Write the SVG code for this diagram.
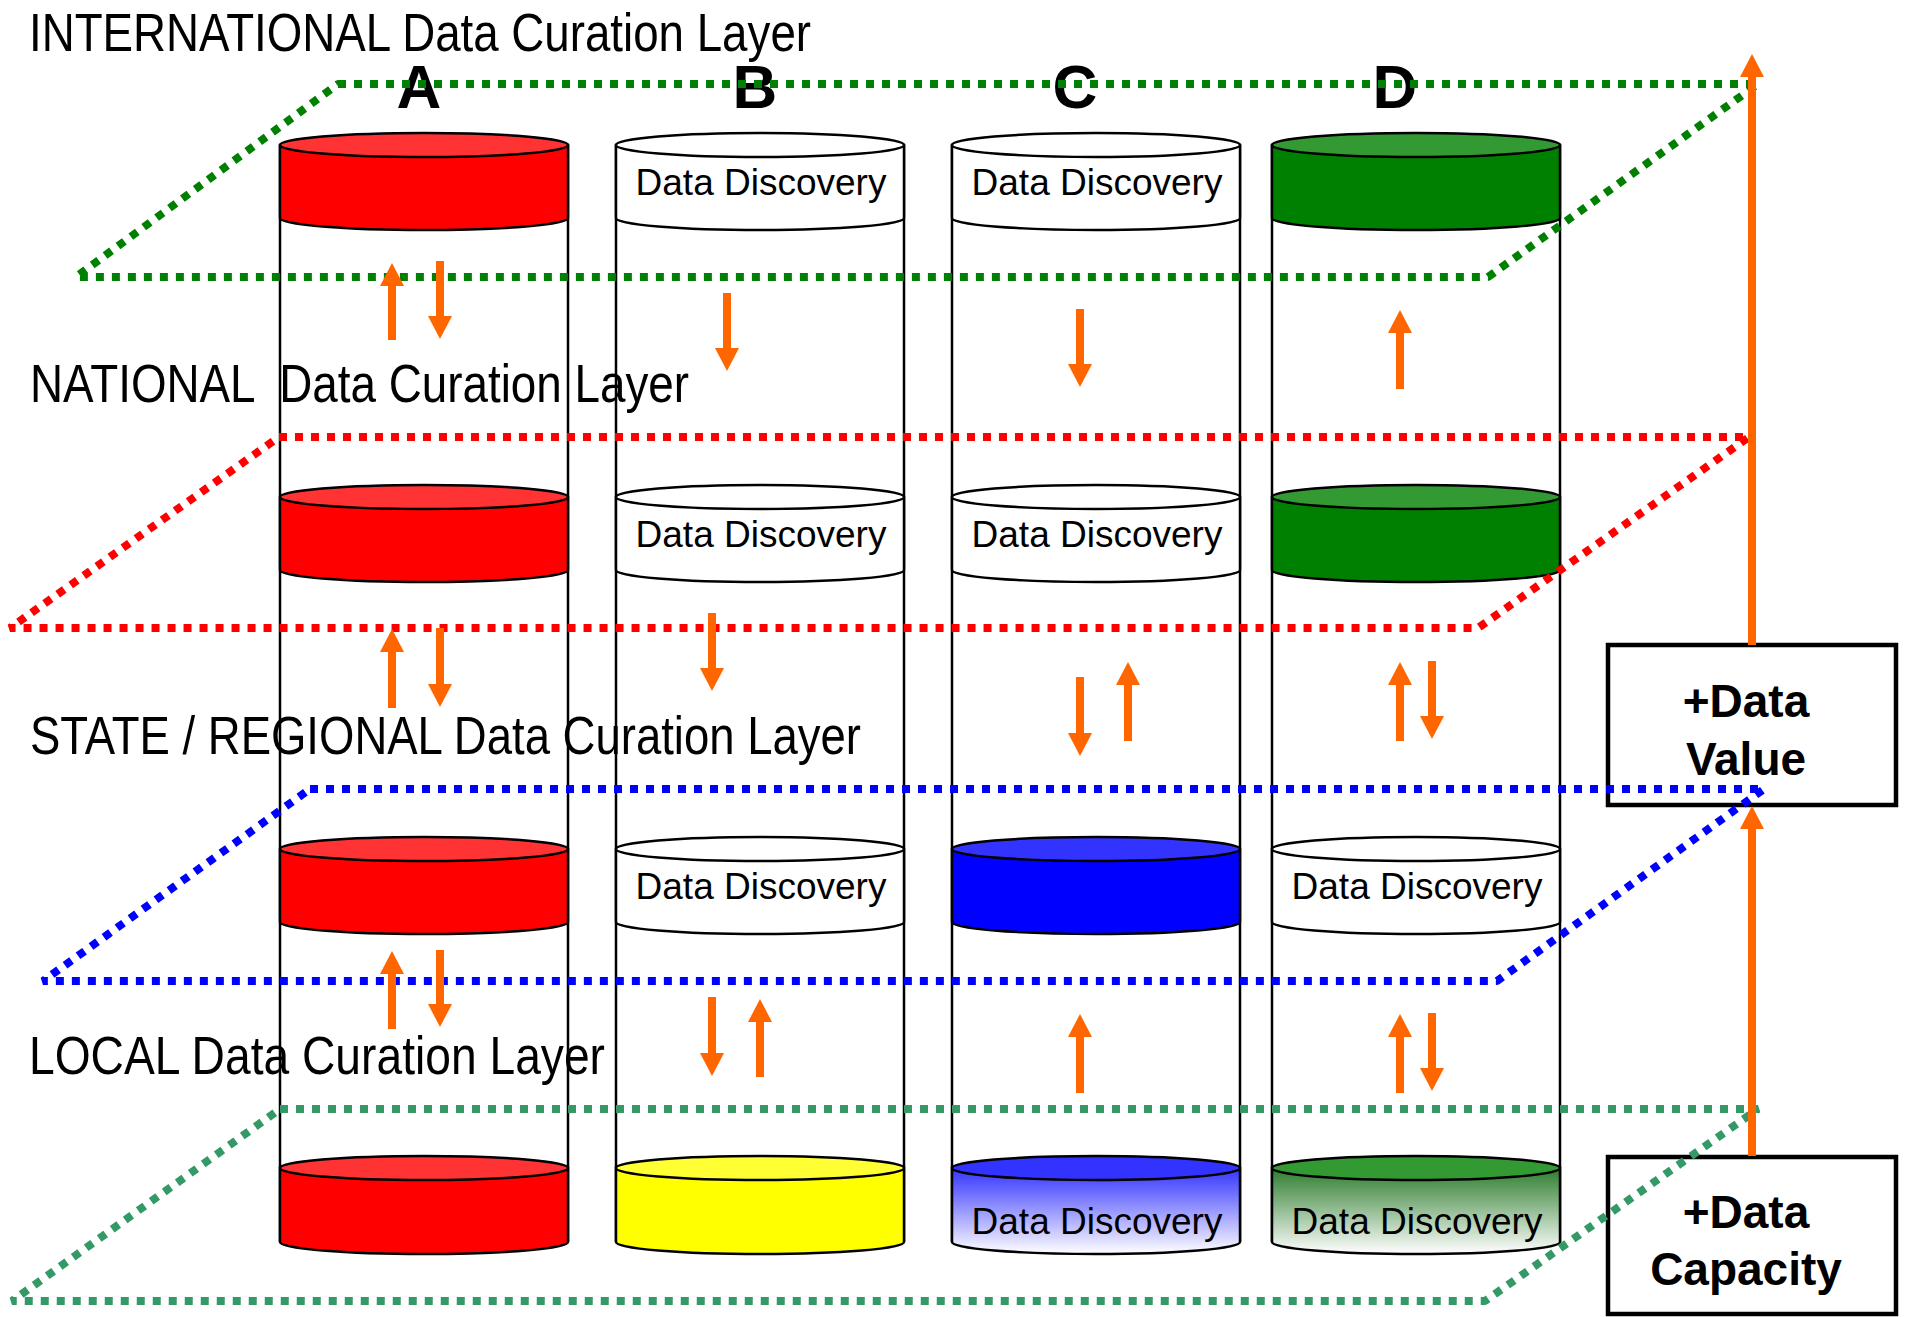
<svg xmlns="http://www.w3.org/2000/svg" width="1908" height="1317" viewBox="0 0 1908 1317">
<defs>
<style>
.wall{stroke:#000;stroke-width:2.5;fill:none}
.seg{stroke:#000;stroke-width:2.5}
.lbl{font-family:"Liberation Sans",Arial,sans-serif;font-size:53px;fill:#000}
.dd{font-family:"Liberation Sans",Arial,sans-serif;font-size:37px;fill:#000;text-anchor:middle}
.let{font-family:"Liberation Sans",Arial,sans-serif;font-size:62px;font-weight:bold;fill:#000;text-anchor:middle}
.box{fill:#fff;stroke:#000;stroke-width:4.5}
.bt{font-family:"Liberation Sans",Arial,sans-serif;font-size:46px;font-weight:bold;fill:#000;text-anchor:middle}
.plane{fill:none;stroke-width:8;stroke-dasharray:8 8;stroke-linejoin:bevel}
.arr{stroke:#FF6600;stroke-width:8;fill:none;marker-end:url(#ah)}
</style>
<marker id="ah" markerUnits="userSpaceOnUse" markerWidth="24" markerHeight="24" refX="1" refY="12" orient="auto" viewBox="0 0 24 24">
<path d="M0,0 L23,12 L0,24 Z" fill="#FF6600"/>
</marker>
<linearGradient id="gBlue" x1="0" y1="0" x2="0" y2="1">
<stop offset="0" stop-color="#3333FF"/>
<stop offset="1" stop-color="#FFFFFF"/>
</linearGradient>
<linearGradient id="gGreen" x1="0" y1="0" x2="0" y2="1">
<stop offset="0" stop-color="#2E7D2E"/>
<stop offset="1" stop-color="#FFFFFF"/>
</linearGradient>
</defs>
<rect x="0" y="0" width="1908" height="1317" fill="#fff"/>

<!-- Layer labels -->
<g id="labels">
<text class="lbl" x="29" y="51" textLength="782" lengthAdjust="spacingAndGlyphs">INTERNATIONAL Data Curation Layer</text>
<text class="lbl" x="30" y="402" textLength="659" lengthAdjust="spacingAndGlyphs" xml:space="preserve" style="white-space:pre">NATIONAL  Data Curation Layer</text>
<text class="lbl" x="30" y="754" textLength="831" lengthAdjust="spacingAndGlyphs">STATE / REGIONAL Data Curation Layer</text>
<text class="lbl" x="29" y="1074" textLength="576" lengthAdjust="spacingAndGlyphs">LOCAL Data Curation Layer</text>
</g>

<!-- Column letters -->
<g id="letters">
<text class="let" x="419" y="108">A</text>
<text class="let" x="755" y="108">B</text>
<text class="let" x="1075" y="108">C</text>
<text class="let" x="1395" y="108">D</text>
</g>

<!-- Column A -->
<g id="col-A">
<line class="wall" x1="280" y1="145" x2="280" y2="1242"/>
<line class="wall" x1="568" y1="145" x2="568" y2="1242"/>
<path class="seg" fill="#FF0000" d="M280,145 L280,218 A144,12 0 0 0 568,218 L568,145 Z"/>
<ellipse class="seg" fill="#FF3333" cx="424" cy="145" rx="144" ry="12"/>
<path class="seg" fill="#FF0000" d="M280,497 L280,570 A144,12 0 0 0 568,570 L568,497 Z"/>
<ellipse class="seg" fill="#FF3333" cx="424" cy="497" rx="144" ry="12"/>
<path class="seg" fill="#FF0000" d="M280,849 L280,922 A144,12 0 0 0 568,922 L568,849 Z"/>
<ellipse class="seg" fill="#FF3333" cx="424" cy="849" rx="144" ry="12"/>
<path class="seg" fill="#FF0000" d="M280,1168 L280,1242 A144,12 0 0 0 568,1242 L568,1168 Z"/>
<ellipse class="seg" fill="#FF3333" cx="424" cy="1168" rx="144" ry="12"/>
</g>

<!-- Column B -->
<g id="col-B">
<line class="wall" x1="616" y1="145" x2="616" y2="1242"/>
<line class="wall" x1="904" y1="145" x2="904" y2="1242"/>
<path class="seg" fill="#FFFFFF" d="M616,145 L616,218 A144,12 0 0 0 904,218 L904,145 Z"/>
<ellipse class="seg" fill="#FFFFFF" cx="760" cy="145" rx="144" ry="12"/>
<text class="dd" x="761" y="195">Data Discovery</text>
<path class="seg" fill="#FFFFFF" d="M616,497 L616,570 A144,12 0 0 0 904,570 L904,497 Z"/>
<ellipse class="seg" fill="#FFFFFF" cx="760" cy="497" rx="144" ry="12"/>
<text class="dd" x="761" y="547">Data Discovery</text>
<path class="seg" fill="#FFFFFF" d="M616,849 L616,922 A144,12 0 0 0 904,922 L904,849 Z"/>
<ellipse class="seg" fill="#FFFFFF" cx="760" cy="849" rx="144" ry="12"/>
<text class="dd" x="761" y="899">Data Discovery</text>
<path class="seg" fill="#FFFF00" d="M616,1168 L616,1242 A144,12 0 0 0 904,1242 L904,1168 Z"/>
<ellipse class="seg" fill="#FFFF33" cx="760" cy="1168" rx="144" ry="12"/>
</g>

<!-- Column C -->
<g id="col-C">
<line class="wall" x1="952" y1="145" x2="952" y2="1242"/>
<line class="wall" x1="1240" y1="145" x2="1240" y2="1242"/>
<path class="seg" fill="#FFFFFF" d="M952,145 L952,218 A144,12 0 0 0 1240,218 L1240,145 Z"/>
<ellipse class="seg" fill="#FFFFFF" cx="1096" cy="145" rx="144" ry="12"/>
<text class="dd" x="1097" y="195">Data Discovery</text>
<path class="seg" fill="#FFFFFF" d="M952,497 L952,570 A144,12 0 0 0 1240,570 L1240,497 Z"/>
<ellipse class="seg" fill="#FFFFFF" cx="1096" cy="497" rx="144" ry="12"/>
<text class="dd" x="1097" y="547">Data Discovery</text>
<path class="seg" fill="#0000FF" d="M952,849 L952,922 A144,12 0 0 0 1240,922 L1240,849 Z"/>
<ellipse class="seg" fill="#3333FF" cx="1096" cy="849" rx="144" ry="12"/>
<path class="seg" fill="url(#gBlue)" d="M952,1168 L952,1242 A144,12 0 0 0 1240,1242 L1240,1168 Z"/>
<ellipse class="seg" fill="#3333FF" cx="1096" cy="1168" rx="144" ry="12"/>
<text class="dd" x="1097" y="1234">Data Discovery</text>
</g>

<!-- Column D -->
<g id="col-D">
<line class="wall" x1="1272" y1="145" x2="1272" y2="1242"/>
<line class="wall" x1="1560" y1="145" x2="1560" y2="1242"/>
<path class="seg" fill="#008000" d="M1272,145 L1272,218 A144,12 0 0 0 1560,218 L1560,145 Z"/>
<ellipse class="seg" fill="#339933" cx="1416" cy="145" rx="144" ry="12"/>
<path class="seg" fill="#008000" d="M1272,497 L1272,570 A144,12 0 0 0 1560,570 L1560,497 Z"/>
<ellipse class="seg" fill="#339933" cx="1416" cy="497" rx="144" ry="12"/>
<path class="seg" fill="#FFFFFF" d="M1272,849 L1272,922 A144,12 0 0 0 1560,922 L1560,849 Z"/>
<ellipse class="seg" fill="#FFFFFF" cx="1416" cy="849" rx="144" ry="12"/>
<text class="dd" x="1417" y="899">Data Discovery</text>
<path class="seg" fill="url(#gGreen)" d="M1272,1168 L1272,1242 A144,12 0 0 0 1560,1242 L1560,1168 Z"/>
<ellipse class="seg" fill="#339933" cx="1416" cy="1168" rx="144" ry="12"/>
<text class="dd" x="1417" y="1234">Data Discovery</text>
</g>

<!-- Value boxes -->
<g id="box-value">
<rect class="box" x="1608" y="645" width="288" height="160"/>
<text class="bt" x="1746" y="717">+Data</text>
<text class="bt" x="1746" y="775">Value</text>
</g>
<g id="box-capacity">
<rect class="box" x="1608" y="1157" width="288" height="157"/>
<text class="bt" x="1746" y="1228">+Data</text>
<text class="bt" x="1746" y="1285">Capacity</text>
</g>

<!-- Curation layer planes -->
<g id="planes">
<path class="plane" stroke="#008000" d="M338,84 L1758,84 L1488,277 L76,277 Z"/>
<path class="plane" stroke="#FF0000" d="M279,437 L1749,437 L1478,628 L10,628 Z"/>
<path class="plane" stroke="#0000FF" d="M310,789 L1764,789 L1497,981 L43,981 Z"/>
<path class="plane" stroke="#339966" d="M280,1109 L1758,1109 L1485,1301 L12,1301 Z"/>
</g>

<!-- Connectors -->
<g id="connectors">
<line class="arr" x1="392" y1="340" x2="392" y2="285"/>
<line class="arr" x1="440" y1="261" x2="440" y2="317"/>
<line class="arr" x1="727" y1="293" x2="727" y2="349"/>
<line class="arr" x1="1080" y1="309" x2="1080" y2="365"/>
<line class="arr" x1="1400" y1="389" x2="1400" y2="332"/>

<line class="arr" x1="392" y1="708" x2="392" y2="651"/>
<line class="arr" x1="440" y1="628" x2="440" y2="685"/>
<line class="arr" x1="712" y1="613" x2="712" y2="669"/>
<line class="arr" x1="1080" y1="677" x2="1080" y2="734"/>
<line class="arr" x1="1128" y1="741" x2="1128" y2="684"/>
<line class="arr" x1="1400" y1="741" x2="1400" y2="684"/>
<line class="arr" x1="1432" y1="661" x2="1432" y2="717"/>

<line class="arr" x1="392" y1="1029" x2="392" y2="973"/>
<line class="arr" x1="440" y1="950" x2="440" y2="1005"/>
<line class="arr" x1="712" y1="997" x2="712" y2="1054"/>
<line class="arr" x1="760" y1="1077" x2="760" y2="1021"/>
<line class="arr" x1="1080" y1="1093" x2="1080" y2="1036"/>
<line class="arr" x1="1400" y1="1093" x2="1400" y2="1036"/>
<line class="arr" x1="1432" y1="1013" x2="1432" y2="1069"/>

<line class="arr" x1="1752" y1="645" x2="1752" y2="76"/>
<line class="arr" x1="1752" y1="1156" x2="1752" y2="828"/>
</g>
</svg>
